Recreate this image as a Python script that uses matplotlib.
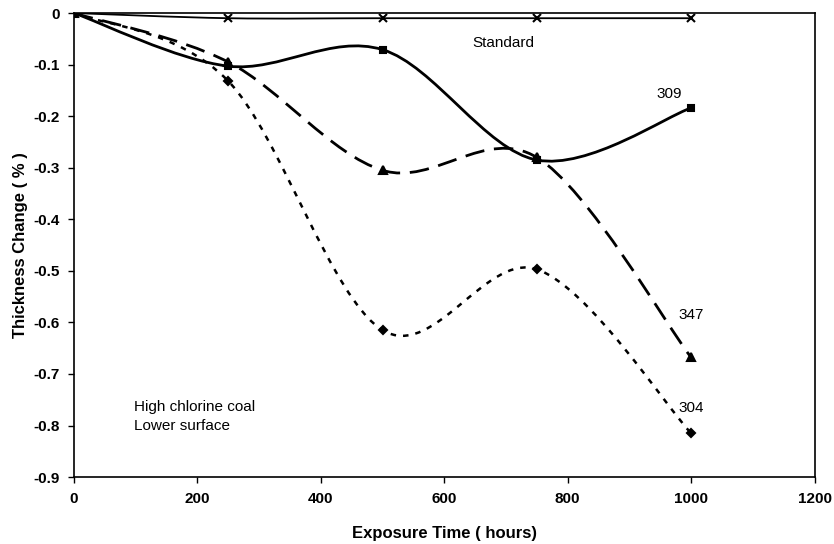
import matplotlib
matplotlib.use("Agg")
import matplotlib.pyplot as plt
from matplotlib.path import Path
from matplotlib.patches import PathPatch

plt.rcParams['font.family'] = ['Liberation Sans', 'DejaVu Sans']

hours = [0, 250, 500, 750, 1000]
standard = [0, -0.01, -0.01, -0.01, -0.01]
s309 = [0, -0.103, -0.071, -0.285, -0.184]
s347 = [0, -0.095, -0.305, -0.28, -0.668]
s304 = [0, -0.132, -0.615, -0.497, -0.815]


def smooth_path(xs, ys):
    # Excel-style smoothed line: cubic bezier, control points from neighbours
    pts = list(zip(xs, ys))
    n = len(pts)
    verts = [pts[0]]
    codes = [Path.MOVETO]
    for i in range(n - 1):
        p0 = pts[i - 1] if i > 0 else pts[i]
        p1 = pts[i]
        p2 = pts[i + 1]
        p3 = pts[i + 2] if i + 2 < n else pts[i + 1]
        c1 = (p1[0] + (p2[0] - p0[0]) / 6.0, p1[1] + (p2[1] - p0[1]) / 6.0)
        c2 = (p2[0] - (p3[0] - p1[0]) / 6.0, p2[1] - (p3[1] - p1[1]) / 6.0)
        verts += [c1, c2, p2]
        codes += [Path.CURVE4] * 3
    return Path(verts, codes)


fig = plt.figure(figsize=(8.34, 5.44), dpi=100)
ax = fig.add_axes([0.0887, 0.123, 0.888, 0.853])

series = [
    (standard, 'x', 1.3, '-', 6),
    (s309, 's', 2.0, '-', 5),
    (s347, '^', 2.0, (0, (7, 3.5)), 6),
    (s304, 'D', 1.8, (0, (2.2, 2.8)), 4.5),
]
for ys, mk, lw, ls, ms in series:
    ax.add_patch(PathPatch(smooth_path(hours, ys), facecolor='none', edgecolor='black',
                           lw=lw, linestyle=ls, capstyle='butt'))
    ax.plot(hours, ys, linestyle='none', marker=mk, color='black', ms=ms, mew=1.5)

ax.set_xlim(0, 1200)
ax.set_ylim(-0.9, 0)
ax.set_xticks(range(0, 1201, 200))
ax.set_yticks([0, -0.1, -0.2, -0.3, -0.4, -0.5, -0.6, -0.7, -0.8, -0.9])
ax.set_yticklabels(['0', '-0.1', '-0.2', '-0.3', '-0.4', '-0.5', '-0.6', '-0.7', '-0.8', '-0.9'])
for lbl in ax.get_xticklabels() + ax.get_yticklabels():
    lbl.set_fontweight('bold')
    lbl.set_fontsize(11)
ax.tick_params(direction='out', length=4, width=1)
ax.tick_params(axis='x', pad=7)
ax.tick_params(axis='y', pad=6)
for sp in ax.spines.values():
    sp.set_linewidth(1.2)

ax.set_xlabel('Exposure Time ( hours)', fontsize=12, fontweight='bold', labelpad=14)
ax.set_ylabel('Thickness Change ( % )', fontsize=12, fontweight='bold', labelpad=4)

ax.text(645, -0.058, 'Standard', fontsize=11, va='center')
ax.text(944, -0.157, '309', fontsize=11, va='center')
ax.text(980, -0.585, '347', fontsize=11, va='center')
ax.text(980, -0.766, '304', fontsize=11, va='center')
ax.text(97, -0.765, 'High chlorine coal', fontsize=11, va='center')
ax.text(97, -0.8, 'Lower surface', fontsize=11, va='center')

fig.savefig('out.png', dpi=100)
